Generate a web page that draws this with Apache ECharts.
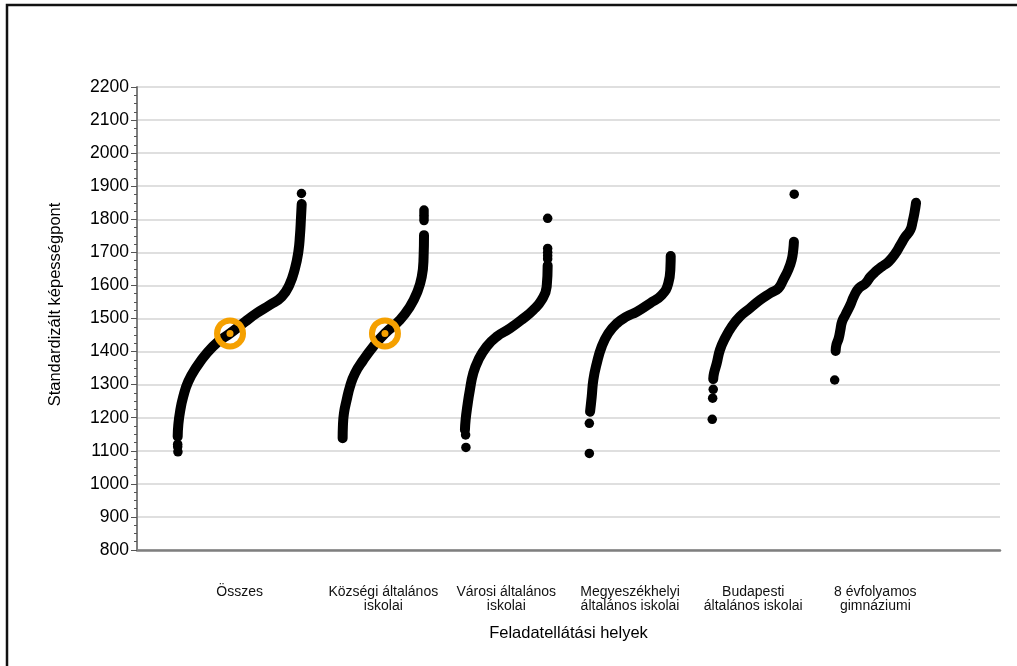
<!DOCTYPE html>
<html>
<head>
<meta charset="utf-8">
<script src="https://cdn.jsdelivr.net/npm/echarts@6/dist/echarts.min.js"></script>
<style>
html,body{margin:0;padding:0;background:#fff;}
#chart{width:1017px;height:666px;}
</style>
</head>
<body>
<div id="chart"></div>
<script>
// ---- data ----
const categories = ['Összes', 'Községi általános\niskolai', 'Városi általános\niskolai',
  'Megyeszékhelyi\náltalános iskolai', 'Budapesti\náltalános iskolai', '8 évfolyamos\ngimnáziumi'];

// [rank percentile within group, standardised score]
const osszesCurve = [[0,1143],[0.5,1178],[1.9,1218],[4.5,1264],[8.5,1309],[15.3,1354],[23.4,1395],[32.7,1430],[42.2,1455],[54.3,1490],[63.7,1516],[74.4,1541],[83.9,1566],[90,1601],[94.6,1652],[97.3,1702],[98.6,1752],[99.4,1803],[100,1846]];
const osszesDots = [[0,1120],[0,1112],[0.2,1097],[99.8,1878]];

const kozsegiCurve = [[0,1138],[0.3,1173],[1.6,1213],[4.9,1253],[9,1294],[15.1,1334],[25.3,1374],[37.6,1415],[52,1455],[70.5,1496],[82.7,1536],[91,1576],[97.2,1626],[99.5,1687],[100,1752]];
const kozsegiDots = [[100,1796],[100,1804],[100,1812],[100,1820],[100,1828]];

const varosiCurve = [[0,1163],[0.8,1193],[2.8,1233],[6,1284],[10,1334],[16.1,1374],[26.2,1415],[38.3,1445],[54.4,1470],[70.5,1500],[82.6,1526],[92.7,1556],[98.8,1596],[100,1660]];
const varosiDots = [[0.8,1148],[1.2,1110],[100,1680],[100,1690],[100,1700],[100,1712],[100,1803]];

const megyeCurve = [[0.9,1218],[2.9,1263],[4.9,1314],[9.1,1364],[15.2,1415],[23.3,1455],[33.7,1485],[45.9,1506],[58.2,1520],[74.6,1546],[88.9,1571],[97,1606],[99.7,1657],[100,1689]];
const megyeDots = [[0,1183],[0,1092]];

const budapestCurve = [[1.2,1317],[2.1,1334],[5.4,1364],[9.4,1405],[15.5,1440],[23.7,1475],[33.8,1506],[46,1531],[58.2,1556],[70.4,1576],[80.5,1591],[86.6,1617],[92.7,1647],[96.8,1677],[98.8,1707],[99.6,1732]];
const budapestDots = [[1.2,1286],[0.5,1259],[0,1195],[100,1876]];

const gimnCurve = [[1.2,1402],[2.1,1420],[4.9,1440],[7,1465],[9,1490],[13.2,1511],[19.3,1541],[23.4,1566],[29.5,1591],[37.8,1606],[43.9,1626],[50,1641],[58.2,1657],[66.4,1672],[74.6,1697],[80.7,1722],[86.8,1747],[93,1768],[95.8,1793],[98.3,1823],[100,1850]];
const gimnDots = [[0,1314]];

// group averages (orange rings): [group index, percentile, score]
const averages = [[0,42.2,1455],[1,52,1455]];

const yTicks = {min: 800, max: 2200, interval: 100};

// ---- layout of the groups along the hidden x axis ----
const groupStart = [0.33, 1.668, 2.66, 3.669, 4.666, 5.659];
const groupWidth = [1.006, 0.66, 0.671, 0.66, 0.665, 0.66];
const curves = [osszesCurve, kozsegiCurve, varosiCurve, megyeCurve, budapestCurve, gimnCurve];
const dots = [osszesDots, kozsegiDots, varosiDots, megyeDots, budapestDots, gimnDots];
const centers = groupStart.map((s, i) => s + groupWidth[i] / 2);
const toX = (g, p) => groupStart[g] + p / 100 * groupWidth[g];

const series = [];
curves.forEach((c, g) => {
  series.push({
    type: 'line', data: c.map(d => [toX(g, d[0]), d[1]]),
    showSymbol: false, smooth: 0.5, z: 2, silent: true,
    lineStyle: {color: '#000', width: 10, cap: 'round', join: 'round'}
  });
});
dots.forEach((c, g) => {
  series.push({
    type: 'scatter', data: c.map(d => [toX(g, d[0]), d[1]]),
    symbolSize: 9.5, z: 3, itemStyle: {color: '#000', opacity: 1}
  });
});
series.push({
  type: 'scatter', data: averages.map(a => [toX(a[0], a[1]), a[2]]),
  symbolSize: 26, z: 5,
  itemStyle: {color: 'rgba(0,0,0,0)', borderColor: '#f5a000', borderWidth: 6, opacity: 1}
});
series.push({
  type: 'scatter', data: averages.map(a => [toX(a[0], a[1]), a[2]]),
  symbolSize: 7, z: 6, itemStyle: {color: '#f5a000', opacity: 1}
});

const chart = echarts.init(document.getElementById('chart'), null, {renderer: 'canvas'});
chart.setOption({
  animation: false,
  textStyle: {fontFamily: 'Liberation Sans, Arial, sans-serif'},
  grid: {left: 137, right: 17, top: 87, bottom: 116},
  graphic: [{
    type: 'rect', shape: {x: 7, y: 5, width: 1300, height: 900},
    style: {fill: 'none', stroke: '#111', lineWidth: 2.5}, z: 100
  }],
  xAxis: {
    type: 'value', min: 0, max: 7,
    name: 'Feladatellátási helyek', nameLocation: 'middle', nameGap: 75,
    nameTextStyle: {fontSize: 16.5, color: '#000', fontFamily: 'Liberation Sans'},
    axisLine: {show: true, lineStyle: {color: '#7f7f7f', width: 2.5}},
    axisTick: {show: false},
    splitLine: {show: false},
    axisLabel: {
      customValues: centers, margin: 35, fontSize: 14, lineHeight: 14, color: '#111',
      fontFamily: 'Liberation Sans',
      formatter: function (v) {
        let best = 0;
        centers.forEach((c, i) => { if (Math.abs(c - v) < Math.abs(centers[best] - v)) best = i; });
        return categories[best];
      }
    }
  },
  yAxis: {
    type: 'value', min: yTicks.min, max: yTicks.max, interval: yTicks.interval,
    name: 'Standardizált képességpont', nameLocation: 'middle', nameGap: 73,
    nameTextStyle: {fontSize: 16.5, color: '#000', fontFamily: 'Liberation Sans', padding: [0, 0, 0, 28]},
    axisLine: {show: true, lineStyle: {color: '#7f7f7f', width: 2}},
    axisTick: {show: true, length: 6, lineStyle: {color: '#555'}},
    minorTick: {show: true, splitNumber: 4, length: 3, lineStyle: {color: '#555'}},
    splitLine: {show: true, lineStyle: {color: '#d4d4d4', width: 1.5}},
    axisLabel: {fontSize: 17.5, color: '#000', margin: 8, fontFamily: 'Liberation Sans',
      formatter: v => String(v)}
  },
  series: series
});
</script>
</body>
</html>
